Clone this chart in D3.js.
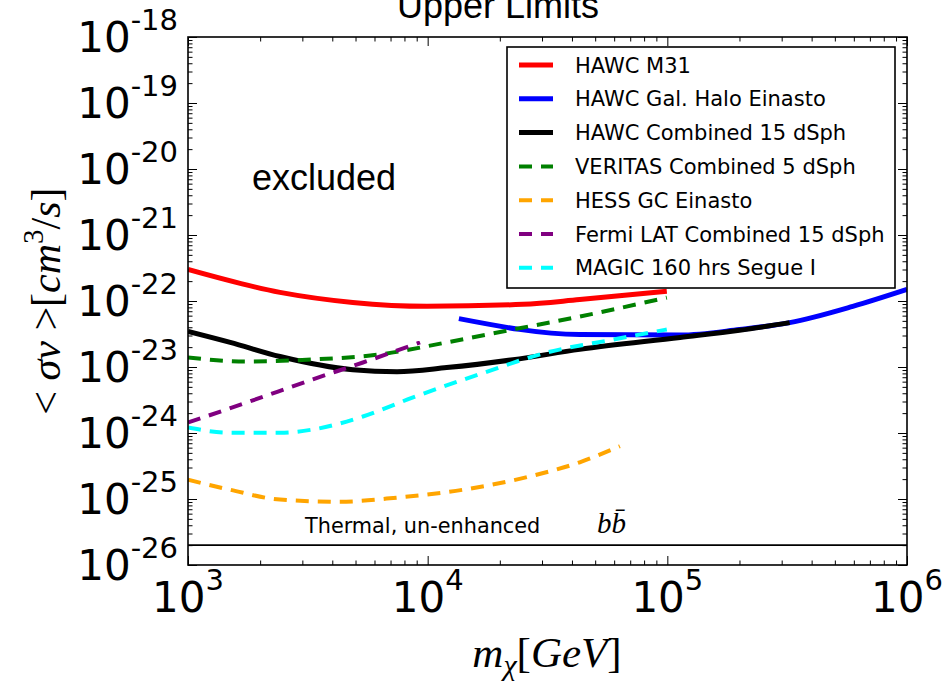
<!DOCTYPE html>
<html>
<head>
<meta charset="utf-8">
<script src="https://cdn.jsdelivr.net/npm/d3@7"></script>
<style>
  body { margin: 0; background: #fff; }
  svg { display: block; }
</style>
</head>
<body>
<div id="chart"></div>
<script>
(function () {
    'use strict';

    // ---- data ----
    var hawcM31Mass = [1000, 2420, 4870, 9930, 25000, 43100, 99500];
    var hawcM31Sv = [3.0e-22, 1.35e-22, 9.5e-23, 8.3e-23, 8.9e-23, 1.05e-22, 1.4e-22];

    var hawcHaloMass = [13500, 43100, 113000, 200000, 324000, 594000, 1000000];
    var hawcHaloSv = [5.4e-23, 3.1e-23, 3.05e-23, 3.7e-23, 4.7e-23, 8.3e-23, 1.5e-22];

    var hawcDsphMass = [1000, 1500, 2420, 4870, 7450, 12000, 22700, 43100, 113000, 200000, 324000];
    var hawcDsphSv = [3.46e-23, 2.36e-23, 1.44e-23, 9.1e-24, 8.5e-24, 9.8e-24, 1.29e-23, 1.85e-23, 2.8e-23, 3.6e-23, 4.7e-23];

    var veritasMass = [1000, 1760, 3320, 6320, 12000, 22700, 43100, 99500];
    var veritasSv = [1.39e-23, 1.21e-23, 1.3e-23, 1.55e-23, 2.36e-23, 3.7e-23, 5.8e-23, 1.13e-22];

    var hessMass = [1000, 1500, 2420, 4300, 7450, 14000, 26700, 43100, 63400];
    var hessSv = [1.96e-25, 1.38e-25, 9.8e-26, 9.1e-26, 1.05e-25, 1.38e-25, 2.2e-25, 3.6e-25, 6.3e-25];

    var fermiMass = [1000, 1760, 3320, 5370, 9290];
    var fermiSv = [1.44e-24, 2.9e-24, 6.5e-24, 1.17e-23, 2.36e-23];

    var magicMass = [1000, 1500, 2420, 3320, 5370, 8690, 16500, 31500, 59300, 99500];
    var magicSv = [1.21e-24, 1.01e-24, 1.01e-24, 1.13e-24, 1.78e-24, 3.46e-24, 7.8e-24, 1.66e-23, 2.6e-23, 3.7e-23];

    var seriesNames = ['HAWC M31', 'HAWC Gal. Halo Einasto', 'HAWC Combined 15 dSph',
        'VERITAS Combined 5 dSph', 'HESS GC Einasto', 'Fermi LAT Combined 15 dSph', 'MAGIC 160 hrs Segue I'];
    var seriesColors = ['#ff0000', '#0000ff', '#000000', '#008000', '#ffa500', '#800080', '#00ffff'];
    var seriesDashed = [false, false, false, true, true, true, true];

    var thermalSv = 2.0e-26;
    var xTickExps = [3, 4, 5, 6];
    var yTickExps = [-18, -19, -20, -21, -22, -23, -24, -25, -26];

    var seriesMass = [hawcM31Mass, hawcHaloMass, hawcDsphMass, veritasMass, hessMass, fermiMass, magicMass];
    var seriesSv = [hawcM31Sv, hawcHaloSv, hawcDsphSv, veritasSv, hessSv, fermiSv, magicSv];

    // ---- layout ----
    var W = 942, H = 681;
    var margin = {top: 37, right: 35, bottom: 116, left: 188},
        width = W - margin.left - margin.right,
        height = H - margin.top - margin.bottom;

    var svg = d3.select('#chart').append('svg')
        .attr('width', W)
        .attr('height', H);

    var x = d3.scaleLog().domain([1e3, 1e6]).range([0, width]);
    var y = d3.scaleLog().domain([1e-26, 1e-18]).range([height, 0]);

    var g = svg.append('g')
        .attr('transform', 'translate(' + margin.left + ',' + margin.top + ')');

    // minor ticks 2..9 of each decade
    var xMinor = [], yMinor = [];
    for (var e = 3; e < 6; e++) for (var k = 2; k < 10; k++) xMinor.push(k * Math.pow(10, e));
    for (var e2 = -26; e2 < -18; e2++) for (var k2 = 2; k2 < 10; k2++) yMinor.push(k2 * Math.pow(10, e2));
    var xMajor = xTickExps.map(function (p) { return Math.pow(10, p); });
    var yMajor = yTickExps.map(function (p) { return Math.pow(10, p); });

    function tickAxis(gen, vals, size, tx, ty) {
        var a = g.append('g')
            .attr('transform', 'translate(' + tx + ',' + ty + ')')
            .call(gen.tickValues(vals).tickSize(-size).tickFormat(''));
        a.select('.domain').remove();
        a.selectAll('line').attr('stroke', '#000').attr('stroke-width', 1);
    }
    tickAxis(d3.axisBottom(x), xMajor, 9, 0, height);
    tickAxis(d3.axisBottom(x), xMinor, 4.5, 0, height);
    tickAxis(d3.axisTop(x), xMajor, 9, 0, 0);
    tickAxis(d3.axisTop(x), xMinor, 4.5, 0, 0);
    tickAxis(d3.axisLeft(y), yMajor, 9, 0, 0);
    tickAxis(d3.axisLeft(y), yMinor, 4.5, 0, 0);
    tickAxis(d3.axisRight(y), yMajor, 9, width, 0);
    tickAxis(d3.axisRight(y), yMinor, 4.5, width, 0);

    // thermal line
    g.append('line')
        .attr('x1', 0).attr('x2', width)
        .attr('y1', y(thermalSv)).attr('y2', y(thermalSv))
        .attr('stroke', '#000').attr('stroke-width', 1.6);

    // curves
    var line = d3.line()
        .x(function (d) { return x(d[0]); })
        .y(function (d) { return y(d[1]); })
        .curve(d3.curveMonotoneX);

    g.append('defs').append('clipPath').attr('id', 'clip')
        .append('rect').attr('width', width).attr('height', height);

    var curves = g.append('g').attr('clip-path', 'url(#clip)');
    seriesNames.forEach(function (name, i) {
        var pts = d3.zip(seriesMass[i], seriesSv[i]);
        curves.append('path')
            .datum(pts)
            .attr('d', line)
            .attr('fill', 'none')
            .attr('stroke', seriesColors[i])
            .attr('stroke-width', seriesDashed[i] ? 4 : 5)
            .attr('stroke-dasharray', seriesDashed[i] ? '13,9' : null);
    });

    // frame
    g.append('rect')
        .attr('width', width).attr('height', height)
        .attr('fill', 'none').attr('stroke', '#000').attr('stroke-width', 1.6);

    // annotations
    g.append('text')
        .attr('x', 252 - margin.left).attr('y', 190 - margin.top)
        .style('font-family', '"Liberation Sans", Arial, sans-serif')
        .style('font-size', '36px')
        .text('excluded');

    g.append('text')
        .attr('x', 305 - margin.left).attr('y', 533 - margin.top)
        .style('font-family', '"DejaVu Sans", sans-serif')
        .style('font-size', '20.8px')
        .text('Thermal, un-enhanced');

    var bb = g.append('text')
        .attr('x', 597 - margin.left).attr('y', 533 - margin.top)
        .style('font-family', '"Liberation Serif", serif')
        .style('font-style', 'italic')
        .style('font-size', '29px');
    bb.append('tspan').text('b');
    bb.append('tspan').text('b\u0304');

    // legend
    var leg = g.append('g').attr('transform', 'translate(' + (507 - margin.left) + ',' + (47 - margin.top) + ')');
    leg.append('rect')
        .attr('width', 388).attr('height', 241)
        .attr('fill', '#fff').attr('stroke', '#000').attr('stroke-width', 1.6);
    seriesNames.forEach(function (name, i) {
        var ry = 18 + i * 33.8;
        leg.append('line')
            .attr('x1', 12).attr('x2', 46)
            .attr('y1', ry).attr('y2', ry)
            .attr('stroke', seriesColors[i])
            .attr('stroke-width', seriesDashed[i] ? 4 : 5)
            .attr('stroke-dasharray', seriesDashed[i] ? '13,9' : null);
        leg.append('text')
            .attr('x', 68).attr('y', ry + 7.5)
            .style('font-family', '"DejaVu Sans", sans-serif')
            .style('font-size', '21px')
            .text(name);
    });

    // tick labels
    var labelFont = '"DejaVu Sans", sans-serif';
    yTickExps.forEach(function (p) {
        var t = svg.append('text')
            .attr('x', 178)
            .attr('y', margin.top + y(Math.pow(10, p)) + 15)
            .attr('text-anchor', 'end')
            .style('font-family', labelFont);
        t.append('tspan').style('font-size', '42px').text('10');
        t.append('tspan').style('font-size', '29px').attr('dy', -22).text(String(p));
    });
    xTickExps.forEach(function (p) {
        var t = svg.append('text')
            .attr('x', margin.left + x(Math.pow(10, p)))
            .attr('y', 612)
            .attr('text-anchor', 'middle')
            .style('font-family', labelFont);
        t.append('tspan').style('font-size', '42px').text('10');
        t.append('tspan').style('font-size', '29px').attr('dy', -22).text(String(p));
    });

    // axis titles
    var serif = '"Liberation Serif", "DejaVu Serif", serif';
    var xl = svg.append('text')
        .attr('x', 547).attr('y', 667)
        .attr('text-anchor', 'middle')
        .style('font-family', serif)
        .style('font-size', '43px');
    xl.append('tspan').style('font-style', 'italic').text('m');
    xl.append('tspan').style('font-style', 'italic').style('font-size', '30px').attr('dy', 8).text('\u03c7');
    xl.append('tspan').attr('dy', -8).text('[');
    xl.append('tspan').style('font-style', 'italic').text('GeV');
    xl.append('tspan').text(']');

    var yl = svg.append('text')
        .attr('transform', 'translate(60,' + (margin.top + height / 2) + ') rotate(-90)')
        .attr('text-anchor', 'middle')
        .style('font-family', serif)
        .style('font-size', '42px');
    yl.append('tspan').text('< ');
    yl.append('tspan').style('font-style', 'italic').text('\u03c3v');
    yl.append('tspan').text(' >[');
    yl.append('tspan').style('font-style', 'italic').text('cm');
    yl.append('tspan').style('font-size', '29px').attr('dy', -17).text('3');
    yl.append('tspan').attr('dy', 17).text('/');
    yl.append('tspan').style('font-style', 'italic').text('s');
    yl.append('tspan').text(']');

    // title (cut off at top in the reference)
    svg.append('text')
        .attr('x', 498).attr('y', 18)
        .attr('text-anchor', 'middle')
        .style('font-family', '"Liberation Sans", Arial, sans-serif')
        .style('font-size', '36px')
        .text('Upper Limits');
})();
</script>
</body>
</html>
